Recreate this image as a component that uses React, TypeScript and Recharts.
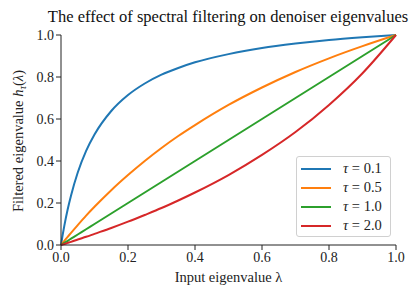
import React from "react";
import {
  LineChart,
  Line,
  XAxis,
  YAxis,
} from "recharts";

// input eigenvalue λ
const lambdas = [0, 0.005, 0.01, 0.02, 0.03, 0.05, 0.075, 0.1, 0.15, 0.2, 0.25, 0.3, 0.35, 0.4, 0.5, 0.6, 0.7, 0.8, 0.9, 1.0];

// filtered eigenvalue for each τ
const tau01 = [0, 0.048, 0.092, 0.170, 0.236, 0.345, 0.448, 0.526, 0.638, 0.714, 0.769, 0.811, 0.843, 0.870, 0.909, 0.938, 0.959, 0.976, 0.989, 1.0];
const tau05 = [0, 0.010, 0.020, 0.039, 0.058, 0.095, 0.140, 0.182, 0.261, 0.333, 0.400, 0.462, 0.519, 0.571, 0.667, 0.750, 0.824, 0.889, 0.947, 1.0];
const tau10 = [0, 0.005, 0.010, 0.020, 0.030, 0.050, 0.075, 0.100, 0.150, 0.200, 0.250, 0.300, 0.350, 0.400, 0.500, 0.600, 0.700, 0.800, 0.900, 1.0];
const tau20 = [0, 0.0025, 0.005, 0.010, 0.015, 0.026, 0.039, 0.053, 0.081, 0.111, 0.143, 0.176, 0.212, 0.250, 0.333, 0.429, 0.538, 0.667, 0.818, 1.0];

const ticks = [0, 0.2, 0.4, 0.6, 0.8, 1.0];

const series = [
  { key: "t01", label: "0.1", color: "#1f77b4", values: tau01 },
  { key: "t05", label: "0.5", color: "#ff7f0e", values: tau05 },
  { key: "t10", label: "1.0", color: "#2ca02c", values: tau10 },
  { key: "t20", label: "2.0", color: "#d62728", values: tau20 },
];

const data = lambdas.map((x, i) => {
  const row: any = { x };
  series.forEach((s) => (row[s.key] = s.values[i]));
  return row;
});

const FONT = "'Liberation Serif', 'DejaVu Serif', serif";
const AXIS = "#222";

function LegendBox() {
  return (
    <div
      style={{
        position: "absolute",
        left: 296,
        top: 156,
        background: "rgba(255,255,255,0.85)",
        border: "1px solid #d0d0d0",
        borderRadius: 3,
        padding: "2px 8px 1px 4px",
        fontFamily: FONT,
        fontSize: 14.5,
        color: "#222",
      }}
    >
      {series.map((s) => (
        <div key={s.key} style={{ display: "flex", alignItems: "center", height: 19 }}>
          <span style={{ display: "inline-block", width: 30, height: 2, background: s.color, marginRight: 12 }} />
          <span>
            <i>τ</i> = {s.label}
          </span>
        </div>
      ))}
    </div>
  );
}

export default function App() {
  return (
    <div style={{ position: "absolute", left: 0, top: 0, width: 420, height: 300, background: "#fff", fontFamily: FONT }}>
      <div
        style={{
          position: "absolute",
          top: 7,
          left: 228,
          transform: "translateX(-50%)",
          whiteSpace: "nowrap",
          fontSize: 16.5,
          color: "#111",
        }}
      >
        The effect of spectral filtering on denoiser eigenvalues
      </div>
      <LineChart
        width={420}
        height={300}
        data={data}
        margin={{ top: 35, right: 24, left: 16, bottom: 25 }}
        style={{ fontFamily: FONT }}
      >
        <XAxis
          dataKey="x"
          type="number"
          domain={[0, 1]}
          ticks={ticks}
          tickFormatter={(v) => v.toFixed(1)}
          stroke={AXIS}
          tick={{ fill: "#222", fontSize: 14, fontFamily: FONT }}
          tickSize={5}
          height={30}
          label={{
            value: "Input eigenvalue λ",
            position: "insideBottom",
            offset: -7,
            fill: "#222",
            fontSize: 14.5,
            fontFamily: FONT,
          }}
        />
        <XAxis xAxisId="top" orientation="top" dataKey="x" type="number" domain={[0, 1]} tick={false} tickLine={false} stroke={AXIS} height={0} />
        <YAxis
          type="number"
          domain={[0, 1]}
          ticks={ticks}
          tickFormatter={(v) => v.toFixed(1)}
          stroke={AXIS}
          tick={{ fill: "#222", fontSize: 14, fontFamily: FONT }}
          tickSize={5}
          width={45}
          label={{
            content: () => (
              <text
                x={23}
                y={141}
                transform="rotate(-90, 23, 141)"
                textAnchor="middle"
                fill="#222"
                fontSize={14.5}
                fontFamily={FONT}
              >
                Filtered eigenvalue <tspan fontStyle="italic">h</tspan>
                <tspan fontStyle="italic" fontSize={10} dy={3}>τ</tspan>
                <tspan dy={-3}>(</tspan>
                <tspan fontStyle="italic">λ</tspan>)
              </text>
            ),
          }}
        />
        <YAxis yAxisId="right" orientation="right" type="number" domain={[0, 1]} tick={false} tickLine={false} stroke={AXIS} width={0} />
        {series.map((s) => (
          <Line
            key={s.key}
            dataKey={s.key}
            type="monotone"
            stroke={s.color}
            strokeWidth={2}
            dot={false}
            isAnimationActive={false}
          />
        ))}
      </LineChart>
      <LegendBox />
    </div>
  );
}
